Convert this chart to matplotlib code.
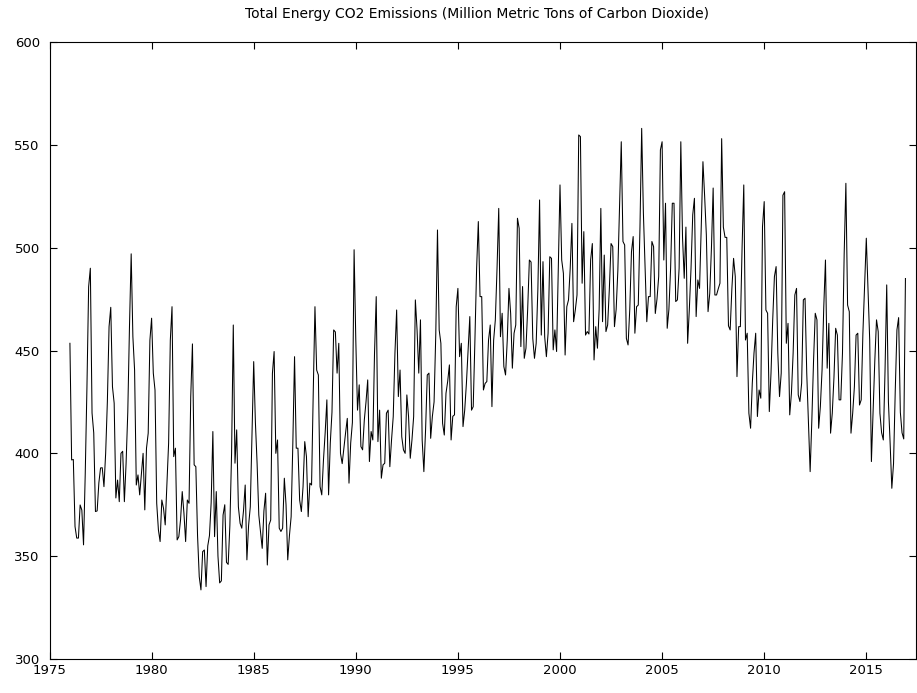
import numpy as np
import matplotlib
matplotlib.use("Agg")
import matplotlib.pyplot as plt

# monthly values, Jan..Dec
y1976 = [453.5, 396.8, 397, 364.4, 358.8, 358.8, 374.9, 372.4, 355.5, 390, 432, 481]
y1977 = [490, 419.6, 409.9, 371.7, 372, 385.6, 392.9, 393, 383.8, 400, 425, 461.6]
y1978 = [471, 432.4, 424.4, 378.3, 387, 376.5, 400, 401, 376.5, 395, 420, 461.6]
y1979 = [497, 456.7, 440.5, 384.6, 389.5, 379.8, 390, 400, 372.5, 402.5, 409.8, 455]
y1980 = [465.7, 439, 430.8, 375.7, 362.8, 357.1, 377.3, 373.3, 365.2, 385, 405, 455]
y1981 = [471.3, 398.4, 402.5, 357.9, 359.5, 367.6, 381.4, 370.9, 357.1, 377.3, 375.7, 427.6]
y1982 = [453.2, 394.4, 393.5, 360, 340, 333.6, 352.2, 353, 335.2, 355, 360, 376]
y1983 = [410.6, 359.5, 381.4, 350, 337, 338, 370, 375, 347, 346, 365, 400]
y1984 = [462.4, 395.2, 411.4, 374, 366, 363.6, 372, 384.6, 348.2, 365, 374, 410]
y1985 = [444.6, 415, 395, 370, 362, 353.8, 372, 380.6, 345.7, 365.2, 367.6, 438.9]
y1986 = [449.5, 400, 406.5, 363.6, 362, 363.6, 387.9, 375, 348.2, 360, 369.2, 405]
y1987 = [447, 402.5, 402.5, 377.3, 371.7, 383.8, 405.7, 398.4, 369.2, 385.5, 384.6, 430]
y1988 = [471.3, 440.5, 438.1, 383.8, 379.8, 396.8, 410, 426, 379.8, 404.9, 420, 460]
y1989 = [459, 439, 453.5, 400, 395, 402.5, 410, 417, 385.5, 405, 415, 499]
y1990 = [455, 421, 433.3, 403.3, 401.7, 416.2, 425, 435.7, 396, 410.6, 406.5, 448.7]
y1991 = [476.2, 405.7, 421, 387.9, 394.4, 395.2, 419.5, 421, 393.5, 406.5, 417.9, 448.7]
y1992 = [469.7, 427.6, 440.5, 408.1, 401.7, 400, 428.4, 417.9, 397.6, 406.5, 417.9, 474.6]
y1993 = [460, 439, 464.9, 406.5, 391.1, 411.4, 438.1, 439, 407.3, 418, 425, 458]
y1994 = [508.6, 460, 453.5, 414.6, 408.9, 429.2, 435, 443, 406.5, 418, 418.7, 471.3]
y1995 = [480.2, 447, 453.5, 413, 421, 434, 450, 466.5, 421, 422.7, 455, 490]
y1996 = [512.7, 476.2, 476.2, 430.8, 434, 434.9, 455.1, 462.4, 422.7, 455, 464.9, 490]
y1997 = [519.1, 456.7, 468.1, 442.2, 438.1, 455, 480.2, 468, 441.4, 458.4, 462.4, 514.3]
y1998 = [509.4, 451.9, 481.1, 446.2, 451.1, 470, 494, 493, 455.9, 446.2, 453.5, 480]
y1999 = [523.2, 457.5, 493.2, 456.7, 447, 458.4, 495.6, 494.8, 450.3, 460, 449.5, 490]
y2000 = [530.5, 494, 487.5, 447.8, 471.3, 474.6, 490, 511.8, 464, 469.7, 477, 554.8]
y2001 = [554, 482.7, 507.8, 457.5, 459.2, 458, 494, 502, 445.4, 461.6, 451.1, 470]
y2002 = [519.1, 464, 496.4, 459.2, 462.4, 480, 502, 500.5, 461.6, 470, 489, 520]
y2003 = [551.5, 503, 501.3, 455.9, 452.7, 470, 498, 505.4, 458.4, 471.3, 472.1, 510]
y2004 = [558, 517, 490, 464, 476.2, 476.2, 503, 500.5, 468, 475, 486, 547.5]
y2005 = [551.5, 494, 521.6, 460.8, 470, 490, 521.6, 521.6, 473.8, 474.6, 490, 551.5]
y2006 = [505, 485.1, 510, 453.5, 470, 490, 516, 524, 466.5, 484.3, 480.2, 510]
y2007 = [541.8, 525, 506.2, 468.9, 477.8, 500, 529, 477, 477, 480, 482.7, 553]
y2008 = [510, 505, 505, 462, 460, 480, 494.8, 486, 437.3, 461.6, 461.6, 500]
y2009 = [530.5, 455.1, 458.4, 419.5, 412.2, 434.1, 448.7, 458.4, 417.9, 430.8, 426.8, 510.2]
y2010 = [522.4, 469.7, 468.1, 420.3, 439, 464.9, 485.9, 490.8, 448.7, 427.6, 439, 525.5]
y2011 = [527.2, 453.5, 463.2, 418.7, 429.2, 448.7, 477, 480.2, 428.4, 425.2, 434.1, 474.6]
y2012 = [475.4, 439, 414.6, 391.1, 416.2, 445, 468.1, 464.9, 412.2, 422.7, 440.5, 471]
y2013 = [494, 441.4, 463.2, 409.8, 419.5, 437, 460.8, 457.5, 426, 426, 448.7, 497]
y2014 = [531.3, 472.1, 468.9, 409.8, 419.5, 432.4, 457.5, 458.4, 423.5, 426, 458.4, 481.1]
y2015 = [504.6, 480, 455.1, 396, 420, 445, 464.9, 459.2, 419.5, 410, 406.5, 440]
y2016 = [481.9, 425, 405, 383, 395, 430, 460, 466, 420, 410, 407, 485]

years = list(range(1976, 2017))
values = (y1976 + y1977 + y1978 + y1979 + y1980 + y1981 + y1982 + y1983 + y1984
          + y1985 + y1986 + y1987 + y1988 + y1989 + y1990 + y1991 + y1992 + y1993
          + y1994 + y1995 + y1996 + y1997 + y1998 + y1999 + y2000 + y2001 + y2002
          + y2003 + y2004 + y2005 + y2006 + y2007 + y2008 + y2009 + y2010 + y2011
          + y2012 + y2013 + y2014 + y2015 + y2016)
t = np.array([y + m / 12 for y in years for m in range(12)])

plt.rcParams["font.family"] = "DejaVu Sans"
fig = plt.figure(figsize=(9.17, 6.93), dpi=100)
ax = fig.add_axes([49.5 / 917, 1 - 659 / 693, (916 - 49.5) / 917, 617 / 693])

ax.plot(t, values, color="black", lw=0.75)

ax.set_xlim(1975, 1975 + (916 - 49.5) / 20.42)
ax.set_ylim(300, 600)
ax.set_xticks(range(1975, 2020, 5))
ax.set_yticks(range(300, 601, 50))
ax.tick_params(direction="in", length=5, width=0.8, labelsize=9.5,
               top=True, right=True)
ax.tick_params(axis="y", pad=7)
for s in ax.spines.values():
    s.set_linewidth(0.8)

fig.text(0.52, 1 - 14 / 693, "Total Energy CO2 Emissions (Million Metric Tons of Carbon Dioxide)",
         ha="center", va="center", fontsize=10)

fig.savefig("out.png", dpi=100)
